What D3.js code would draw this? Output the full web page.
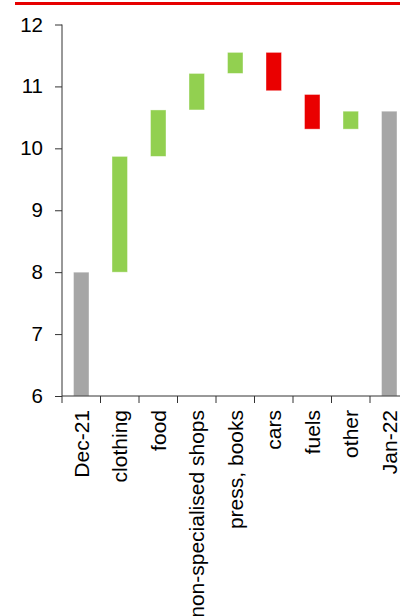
<html>
  <script src="https://d3js.org/d3.v7.min.js"></script>
  <body style="margin:0">
    <div id="svgcontainer"></div>
    <script>
      // data
      var categories = ["Dec-21", "clothing", "food", "non-specialised shops", "press, books", "cars", "fuels", "other", "Jan-22"];
      var barStart = [6, 8.0, 9.87, 10.62, 11.21, 11.55, 10.87, 10.31, 6];
      var barEnd   = [8.0, 9.87, 10.62, 11.21, 11.55, 10.93, 10.31, 10.60, 10.60];
      var barKind  = ["total", "up", "up", "up", "up", "down", "down", "up", "total"];
      var yTicks = [6, 7, 8, 9, 10, 11, 12];

      var width = 400;
      var height = 616;
      var svg = d3.select("#svgcontainer")
        .append("svg").attr("width", width).attr("height", height)
        .style("font-family", "Arial, 'Liberation Sans', sans-serif");

      var colors = {total: "#a6a6a6", up: "#92d050", down: "#ea0000"};

      // red rule on top
      svg.append("line")
        .attr("x1", 15).attr("x2", 400)
        .attr("y1", 3.5).attr("y2", 3.5)
        .attr("stroke", "#e60000")
        .attr("stroke-width", 3);

      var left = 62, bandW = 38.5;
      var x = d3.scaleBand()
        .domain(categories)
        .range([left, left + bandW * categories.length])
        .paddingInner(0).paddingOuter(0);

      var y = d3.scaleLinear().domain([6, 12]).range([396, 24.5]);

      // bars
      var barW = 15.5;
      svg.selectAll("rect.bar")
        .data(categories)
        .enter().append("rect")
        .attr("class", "bar")
        .attr("x", function(d) { return x(d) + x.bandwidth() / 2 - barW / 2 })
        .attr("y", function(d, i) { return y(Math.max(barStart[i], barEnd[i])) })
        .attr("width", barW)
        .attr("height", function(d, i) { return Math.abs(y(barStart[i]) - y(barEnd[i])) })
        .attr("fill", function(d, i) { return colors[barKind[i]] })
        .attr("stroke", "#ffffff")
        .attr("stroke-opacity", 0.5)
        .attr("stroke-width", 0.8);

      // y axis
      var yAxis = svg.append("g")
        .attr("transform", "translate(" + left + ",0)")
        .call(d3.axisLeft(y).tickValues(yTicks).tickSize(7).tickPadding(12).tickFormat(d3.format("d")));
      yAxis.select(".domain").attr("stroke", "#333").attr("d", "M0," + y(12) + "V" + y(6));
      yAxis.selectAll(".tick line").attr("stroke", "#333");
      yAxis.selectAll(".tick text").attr("font-size", 20.5).attr("fill", "#000");

      // x axis
      var xAxis = svg.append("g")
        .attr("transform", "translate(0,396)")
        .call(d3.axisBottom(x).tickSize(0).tickPadding(0));
      xAxis.select(".domain").attr("stroke", "#333").attr("d", "M" + left + ",0H400");
      xAxis.selectAll(".tick line").remove();
      xAxis.selectAll(".tick text")
        .attr("font-size", 21)
        .attr("fill", "#000")
        .attr("text-anchor", "end")
        .attr("dy", "0.35em")
        .attr("transform", "translate(0,14) rotate(-90)");

      // category separator ticks
      svg.selectAll("line.sep")
        .data(d3.range(categories.length + 1))
        .enter().append("line")
        .attr("class", "sep")
        .attr("x1", function(i) { return left + bandW * i })
        .attr("x2", function(i) { return left + bandW * i })
        .attr("y1", 396).attr("y2", 403)
        .attr("stroke", "#333");
    </script>
  </body>
</html>
